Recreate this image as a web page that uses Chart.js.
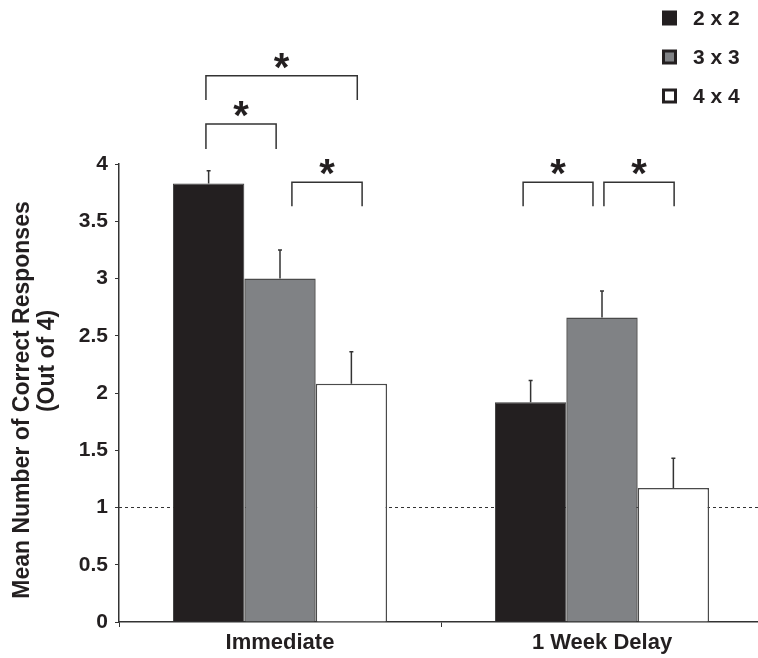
<!DOCTYPE html>
<html>
<head>
<meta charset="utf-8">
<script src="https://cdn.jsdelivr.net/npm/chart.js@4.4.1/dist/chart.umd.min.js"></script>
<style>
  html, body { margin: 0; padding: 0; background: #fff; overflow: hidden; }
  #wrap { width: 766px; height: 658px; }
</style>
</head>
<body>
<div id="wrap"><canvas id="chart" width="766" height="658"></canvas></div>
<script>
// --- DATA ---
const groups = ['Immediate', '1 Week Delay'];
const seriesLabels = ['2 x 2', '3 x 3', '4 x 4'];
const means2x2 = [3.83, 1.92];
const means3x3 = [3.00, 2.66];
const means4x4 = [2.08, 1.17];
// error bars (drawn upward only)
const err2x2 = [0.11, 0.19];
const err3x3 = [0.25, 0.23];
const err4x4 = [0.28, 0.26];
const yTicks = [0, 0.5, 1, 1.5, 2, 2.5, 3, 3.5, 4];
const chanceLevel = 1;
// significance brackets: group index, ends as fraction of a category from its centre, y of bar and legs
const bracketGroup = [0, 0, 0, 1, 1];
const bracketFrom = [-0.23, -0.23, 0.037, -0.245, 0.006];
const bracketTo = [0.24, -0.012, 0.255, -0.028, 0.224];
const bracketTop = [4.77, 4.35, 3.84, 3.84, 3.84];
const bracketLeg = [4.56, 4.13, 3.63, 3.63, 3.63];

const INK = '#231f20';
const FONT = '"Liberation Sans", Arial, sans-serif';
const fills = ['#231f20', '#808285', '#ffffff'];
const errors = [err2x2, err3x3, err4x4];

// --- PLUGINS ---
const chanceLine = {
    id: 'chanceLine',
    beforeDatasetsDraw(chart) {
        const { ctx, chartArea } = chart;
        const y = chart.scales.y.getPixelForValue(chanceLevel);
        ctx.save();
        ctx.strokeStyle = '#333';
        ctx.lineWidth = 1;
        ctx.setLineDash([3, 3]);
        ctx.beginPath();
        ctx.moveTo(chartArea.left, y);
        ctx.lineTo(chart.width, y);
        ctx.stroke();
        ctx.restore();
    }
};

const errorBars = {
    id: 'errorBars',
    afterDatasetsDraw(chart) {
        const { ctx } = chart;
        const yScale = chart.scales.y;
        ctx.save();
        ctx.strokeStyle = '#333';
        ctx.lineWidth = 1.5;
        chart.data.datasets.forEach((ds, i) => {
            chart.getDatasetMeta(i).data.forEach((bar, j) => {
                const top = yScale.getPixelForValue(ds.data[j] + errors[i][j]);
                ctx.beginPath();
                ctx.moveTo(bar.x, bar.y);
                ctx.lineTo(bar.x, top);
                ctx.moveTo(bar.x - 2, top);
                ctx.lineTo(bar.x + 2, top);
                ctx.stroke();
            });
        });
        ctx.restore();
    }
};

const brackets = {
    id: 'brackets',
    afterDraw(chart) {
        const { ctx } = chart;
        const xScale = chart.scales.x, yScale = chart.scales.y;
        const catW = xScale.width / groups.length;
        ctx.save();
        ctx.strokeStyle = '#333';
        ctx.lineWidth = 1.5;
        ctx.fillStyle = INK;
        ctx.font = 'bold 40px ' + FONT;
        ctx.textAlign = 'center';
        ctx.textBaseline = 'alphabetic';
        bracketGroup.forEach((g, k) => {
            const cx = xScale.getPixelForValue(g);
            const x1 = cx + bracketFrom[k] * catW;
            const x2 = cx + bracketTo[k] * catW;
            const yt = yScale.getPixelForValue(bracketTop[k]);
            const yl = yScale.getPixelForValue(bracketLeg[k]);
            ctx.beginPath();
            ctx.moveTo(x1, yl);
            ctx.lineTo(x1, yt);
            ctx.lineTo(x2, yt);
            ctx.lineTo(x2, yl);
            ctx.stroke();
            ctx.fillText('*', (x1 + x2) / 2, yt + 5);
        });
        ctx.restore();
    }
};

const sideLegend = {
    id: 'sideLegend',
    afterDraw(chart) {
        const { ctx } = chart;
        ctx.save();
        ctx.font = 'bold 21px ' + FONT;
        ctx.textAlign = 'left';
        ctx.textBaseline = 'middle';
        chart.data.datasets.forEach((ds, i) => {
            const y = 18 + i * 39;
            ctx.fillStyle = INK;
            ctx.fillRect(662, y - 7.5, 15, 15);
            if (i > 0) {
                ctx.fillStyle = ds.backgroundColor;
                ctx.fillRect(665, y - 4.5, 9, 9);
            }
            ctx.fillStyle = INK;
            ctx.fillText(ds.label, 693, y + 1);
        });
        ctx.restore();
    }
};

const yTitle = {
    id: 'yTitle',
    afterDraw(chart) {
        const { ctx } = chart;
        const lines = [['Mean Number of Correct Responses', 23, 400], ['(Out of 4)', 48, 361]];
        lines.forEach(([text, x, y]) => {
            ctx.save();
            ctx.font = 'bold 23px ' + FONT;
            ctx.fillStyle = INK;
            ctx.textAlign = 'center';
            ctx.textBaseline = 'middle';
            ctx.translate(x, y);
            ctx.rotate(-Math.PI / 2);
            ctx.fillText(text, 0, 0);
            ctx.restore();
        });
    }
};

// --- CHART ---
new Chart(document.getElementById('chart'), {
    type: 'bar',
    data: {
        labels: groups,
        datasets: [
            { label: seriesLabels[0], data: means2x2, backgroundColor: fills[0], borderColor: '#3a3a3a', borderWidth: 1 },
            { label: seriesLabels[1], data: means3x3, backgroundColor: fills[1], borderColor: '#4a4a4a', borderWidth: 1.5 },
            { label: seriesLabels[2], data: means4x4, backgroundColor: fills[2], borderColor: '#4a4a4a', borderWidth: 1.5 },
        ],
    },
    options: {
        responsive: false,
        animation: false,
        layout: { padding: { top: 164, right: 3, left: 0, bottom: 0 } },
        categoryPercentage: 0.665,
        barPercentage: 1.0,
        plugins: { legend: { display: false }, tooltip: { enabled: false } },
        scales: {
            x: {
                offset: true,
                grid: { offset: true, drawOnChartArea: false, drawTicks: true, tickLength: 5, color: '#333' },
                border: { display: true, color: '#333', width: 1.5 },
                ticks: { color: INK, font: { family: FONT, size: 22, weight: 'bold' }, padding: 3 },
                afterFit(scale) { scale.height = 36; },
            },
            y: {
                min: 0,
                max: 4,
                afterBuildTicks(scale) { scale.ticks = yTicks.map(v => ({ value: v })); },
                grid: { drawOnChartArea: false, drawTicks: true, tickLength: 4, color: '#333' },
                border: { display: true, color: '#333', width: 1.5 },
                ticks: {
                    color: INK,
                    font: { family: FONT, size: 21, weight: 'bold' },
                    padding: 7,
                    callback: (value) => String(value),
                },
                afterFit(scale) { scale.width = 119; },
            },
        },
    },
    plugins: [chanceLine, errorBars, brackets, sideLegend, yTitle],
});
</script>
</body>
</html>
